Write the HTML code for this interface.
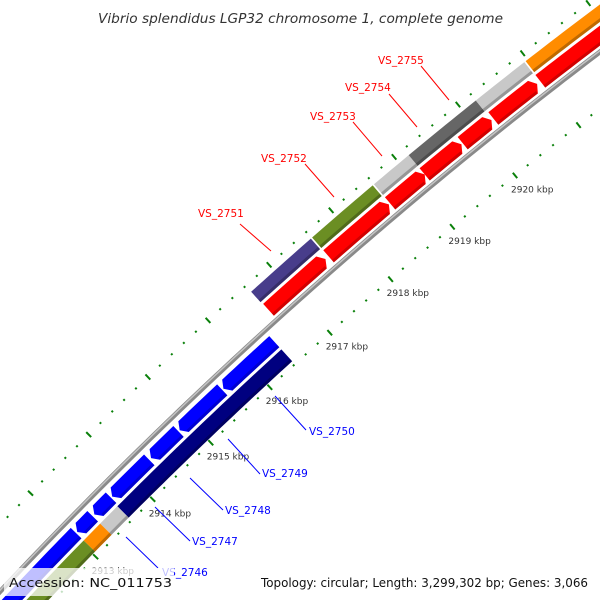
<!DOCTYPE html>
<html><head><meta charset="utf-8">
<style>
html,body{margin:0;padding:0;background:#fff;overflow:hidden;width:600px;height:600px;}
svg{display:block;font-family:"DejaVu Sans","Liberation Sans",sans-serif;}
</style></head>
<body>
<svg id="map" width="600" height="600" viewBox="0 0 600 600" xmlns="http://www.w3.org/2000/svg" overflow="hidden">
  <rect x="0" y="0" width="600" height="600" fill="#ffffff"/>
  <g id="ticks"></g>
  <g id="backbone"></g>
  <g id="feats"></g>
  <g id="labels"></g>
  <text x="98" y="23" font-size="13" font-style="italic" fill="#333" textLength="405" lengthAdjust="spacingAndGlyphs">Vibrio splendidus LGP32 chromosome 1, complete genome</text>
  <rect x="4" y="568" width="170" height="28" fill="#ffffff" fill-opacity="0.75"/>
  <text x="9" y="587" font-size="12.5" fill="#111" textLength="163" lengthAdjust="spacingAndGlyphs">Accession: NC_011753</text>
  <rect x="256" y="568" width="340" height="28" fill="#ffffff" fill-opacity="0.75"/>
  <text x="261" y="587" font-size="12.5" fill="#111" textLength="327" lengthAdjust="spacingAndGlyphs">Topology: circular; Length: 3,299,302 bp; Genes: 3,066</text>
</svg>
<script>
// ---- data (kbp positions) ----
const fwdStarts = [2916.63, 2917.61, 2918.60, 2919.15, 2919.75, 2920.23, 2920.96];
const fwdEnds   = [2917.56, 2918.58, 2919.15, 2919.73, 2920.20, 2920.91, 2922.60];
const revStarts = [2915.57, 2914.83, 2914.34, 2913.67, 2913.36, 2913.06, 2909.50];
const revEnds   = [2916.42, 2915.55, 2914.81, 2914.31, 2913.65, 2913.33, 2913.04];
const outerCatStarts = [2916.62, 2917.61, 2918.60, 2919.15, 2920.20, 2920.97];
const outerCatEnds   = [2917.59, 2918.58, 2919.15, 2920.20, 2920.95, 2922.60];
const outerCatColors = ["#483d8b", "#6b8e23", "#c8c8c8", "#666666", "#c8c8c8", "#ff8c00"];
const innerCatStarts = [2913.63, 2913.33, 2913.04, 2909.50];
const innerCatEnds   = [2916.42, 2913.63, 2913.33, 2913.04];
const innerCatColors = ["#000080", "#c8c8c8", "#ff8c00", "#6b8e23"];
const tickLabels = [2913, 2914, 2915, 2916, 2917, 2918, 2919, 2920];
const geneNames = ["VS_2751","VS_2752","VS_2753","VS_2754","VS_2755","VS_2750","VS_2749","VS_2748","VS_2747","VS_2746"];
const geneColors = ["#ff0000","#ff0000","#ff0000","#ff0000","#ff0000","#0000ff","#0000ff","#0000ff","#0000ff","#0000ff"];
// label layout (pixel anchors)
const geneLabelLayout = [
  [198,217,240,224,271,251],[261,162,305,164,334,197],[310,120,353,122,382,156],
  [345,91,389,94,417,127],[378,64,421,66,449,100],
  [309,435,306,430,275,396],[262,477,260,474,228,439],[225,514,223,510,190,478],
  [192,545,190,541,155,507],[162,576,158,568,126,537]
];

// ---- geometry ----
const NS = "http://www.w3.org/2000/svg";
const CX = 3498.6, CY = 3877.9;
const T0 = Math.atan2(333 - CY, 330 - CX);
const K = 0.01704;
function pt(kbp, r){ const t = T0 + (kbp - 2917) * K; return [CX + r*Math.cos(t), CY + r*Math.sin(t)]; }
function mk(tag, attrs, parent){ const e = document.createElementNS(NS, tag); for (const k in attrs) e.setAttribute(k, attrs[k]); parent.appendChild(e); return e; }
function arcPts(a, b, r){ const out=[]; const n=Math.max(2, Math.ceil((b-a)/0.1)); for(let i=0;i<=n;i++){ out.push(pt(a+(b-a)*i/n, r)); } return out; }
function P(list){ return list.map(p=>p[0].toFixed(2)+","+p[1].toFixed(2)).join(" "); }
function band(a,b,r1,r2){ return arcPts(a,b,r2).concat(arcPts(a,b,r1).reverse()); }
function arrow(a,b,r1,r2,dir){
  const h=0.065, rm=(r1+r2)/2;
  if(dir>0){ const bb=Math.max(a,b-h); return arcPts(a,bb,r2).concat([pt(b,rm)]).concat(arcPts(a,bb,r1).reverse()); }
  const aa=Math.min(b,a+h); return [pt(a,rm)].concat(arcPts(aa,b,r2)).concat(arcPts(aa,b,r1).reverse());
}

const gT = document.getElementById("ticks");
const gB = document.getElementById("backbone");
const gF = document.getElementById("feats");
const gL = document.getElementById("labels");

// ticks
for (let i = 0; i <= 75; i++) {
  const k = 2909 + i * 0.2;
  const major = (i % 5 === 0);
  [4846, 4755].forEach(r => {
    const p1 = pt(k, r + (major ? 3.5 : 1)), p2 = pt(k, r - (major ? 3.5 : 1));
    const ln = mk("line", {x1:p1[0], y1:p1[1], x2:p2[0], y2:p2[1], stroke:"#0a800a", "stroke-width":2}, gT);
    
    
  });
}
tickLabels.forEach(k => {
  const p = pt(k, 4755);
  const t = mk("text", {x:(p[0]-4).toFixed(1), y:(p[1]+17).toFixed(1), "font-size":"9", fill:"#333"}, gT);
  t.textContent = k + " kbp";
  
  
});

// backbone
const bb1 = mk("polyline", {points:P(arcPts(2909,2924,4800)), fill:"none", stroke:"#8a8a8a", "stroke-width":5}, gB);


const bb2 = mk("polyline", {points:P(arcPts(2909,2924,4801)), fill:"none", stroke:"#c4c4c4", "stroke-width":1.5}, gB);



// outer category track
outerCatStarts.forEach((s,i) => {
  const e = outerCatEnds[i];
  const b = mk("polygon", {points:P(band(s,e,4824,4838)), fill:outerCatColors[i]}, gF);
  
  
  const sh = mk("polygon", {points:P(band(s,e,4824,4827)), fill:"#000", "fill-opacity":"0.25"}, gF);
  
  
});
// forward genes
fwdStarts.forEach((s,i) => {
  const e = fwdEnds[i];
  const a = mk("polygon", {points:P(arrow(s,e,4805,4821,1)), fill:"#ff0000"}, gF);
  
  
  const sh = mk("polygon", {points:P(band(s,Math.max(s,e-0.065),4805,4808)), fill:"#000", "fill-opacity":"0.18"}, gF);
  
  
});
// reverse genes
revStarts.forEach((s,i) => {
  const e = revEnds[i];
  const a = mk("polygon", {points:P(arrow(s,e,4778,4793,-1)), fill:"#0000ff"}, gF);
  
  
  const sh = mk("polygon", {points:P(band(Math.min(e,s+0.065),e,4778,4781)), fill:"#000", "fill-opacity":"0.18"}, gF);
  
  
});
// inner category track
innerCatStarts.forEach((s,i) => {
  const e = innerCatEnds[i];
  const b = mk("polygon", {points:P(band(s,e,4759,4775)), fill:innerCatColors[i]}, gF);
  
  
  const sh = mk("polygon", {points:P(band(s,e,4759,4762)), fill:"#000", "fill-opacity":"0.25"}, gF);
  
  
});

// gene labels
geneNames.forEach((n,i) => {
  const L = geneLabelLayout[i];
  const ln = mk("line", {x1:L[2], y1:L[3], x2:L[4], y2:L[5], stroke:geneColors[i], "stroke-width":1}, gL);
  
  
  const t = mk("text", {x:L[0], y:L[1], "font-size":"10.5", fill:geneColors[i]}, gL);
  t.textContent = n;
  
  
});
</script>
</body></html>
